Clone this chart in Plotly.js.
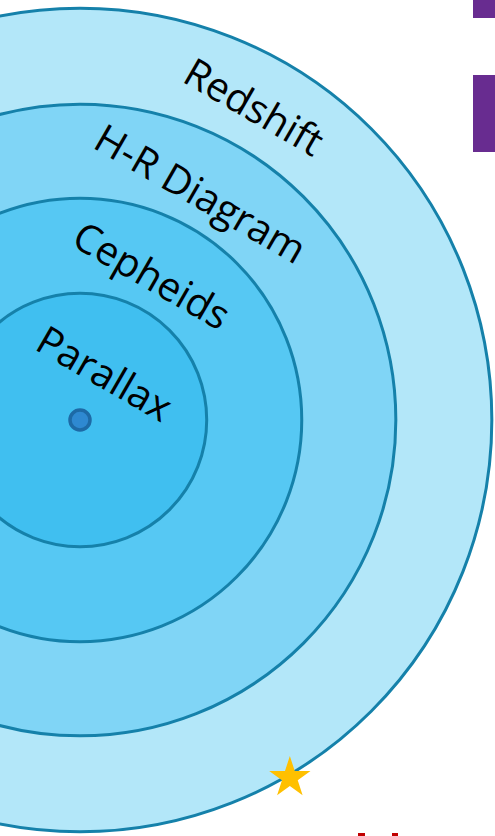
<!DOCTYPE html>
<html>
<head>
<meta charset="utf-8">
<script src="https://cdn.plot.ly/plotly-3.0.1.min.js"></script>
<style>html,body{margin:0;padding:0;background:#fff;}#chart{width:495px;height:836px;}</style>
</head>
<body>
<div id="chart"></div>
<script>
// Distance-ladder layers (inner to outer) and their reach (outer radius, arbitrary units)
const methods = ['Parallax', 'Cepheids', 'H-R Diagram', 'Redshift'];
const radii = [1.32, 2.31, 3.29, 4.29];
const fills = ['#40bff0', '#56c8f3', '#80d5f6', '#b3e7f9'];

const unit = 96; // px per unit
const W = 495, H = 836, cx = 80, cy = 420;
const xr = [-cx / unit, (W - cx) / unit];
const yr = [-(H - cy) / unit, cy / unit];

const shapes = [];
for (let i = radii.length - 1; i >= 0; i--) {
  const r = radii[i];
  shapes.push({type: 'circle', xref: 'x', yref: 'y', x0: -r, x1: r, y0: -r, y1: r,
    fillcolor: fills[i], line: {color: '#1581aa', width: 3}, layer: 'below'});
}
// decorative slide fragments
const px = v => v / W, py = v => 1 - v / H;
shapes.push({type: 'rect', xref: 'paper', yref: 'paper', x0: px(473), x1: 1, y0: py(18), y1: 1, fillcolor: '#682c90', line: {width: 0}});
shapes.push({type: 'rect', xref: 'paper', yref: 'paper', x0: px(473), x1: 1, y0: py(152), y1: py(75), fillcolor: '#682c90', line: {width: 0}});
shapes.push({type: 'rect', xref: 'paper', yref: 'paper', x0: px(358), x1: px(365), y0: 0, y1: py(833), fillcolor: '#c00000', line: {width: 0}});
shapes.push({type: 'rect', xref: 'paper', yref: 'paper', x0: px(392), x1: px(398), y0: 0, y1: py(833), fillcolor: '#c00000', line: {width: 0}});

const labAng = [62.0, 63.5, 62.0, 61.0].map(a => a * Math.PI / 180);
const labOff = [0.1, 0.12, 0.12, 0.05];
const annotations = methods.map((m, i) => {
  const inner = i === 0 ? 0 : radii[i - 1];
  const rl = (inner + radii[i]) / 2 - labOff[i];
  return {x: rl * Math.cos(labAng[i]), y: rl * Math.sin(labAng[i]), xref: 'x', yref: 'y',
    text: m, showarrow: false, textangle: 30, xanchor: 'center', yanchor: 'middle',
    font: {family: 'Open Sans', size: 40, color: '#000'}};
});

const starAng = -59.6 * Math.PI / 180;
const outer = radii[radii.length - 1];
const traces = [
  {x: [0], y: [0], type: 'scatter', mode: 'markers', hoverinfo: 'skip',
   marker: {size: 20, color: '#2e89d1', line: {color: '#1d6aa6', width: 3.5}}},
  {x: [(outer + 0.03) * Math.cos(starAng)], y: [(outer + 0.03) * Math.sin(starAng)], type: 'scatter', mode: 'markers', hoverinfo: 'skip',
   marker: {symbol: 'star', size: 31, color: '#ffc000', line: {width: 0}}}
];

const ax = {visible: false, showgrid: false, zeroline: false, fixedrange: true};
Plotly.newPlot('chart', traces, {
  width: W, height: H, margin: {l: 0, r: 0, t: 0, b: 0},
  paper_bgcolor: '#fff', plot_bgcolor: '#fff', showlegend: false,
  xaxis: Object.assign({}, ax, {range: xr}),
  yaxis: Object.assign({}, ax, {range: yr}),
  shapes: shapes, annotations: annotations
}, {staticPlot: true});
</script>
</body>
</html>
